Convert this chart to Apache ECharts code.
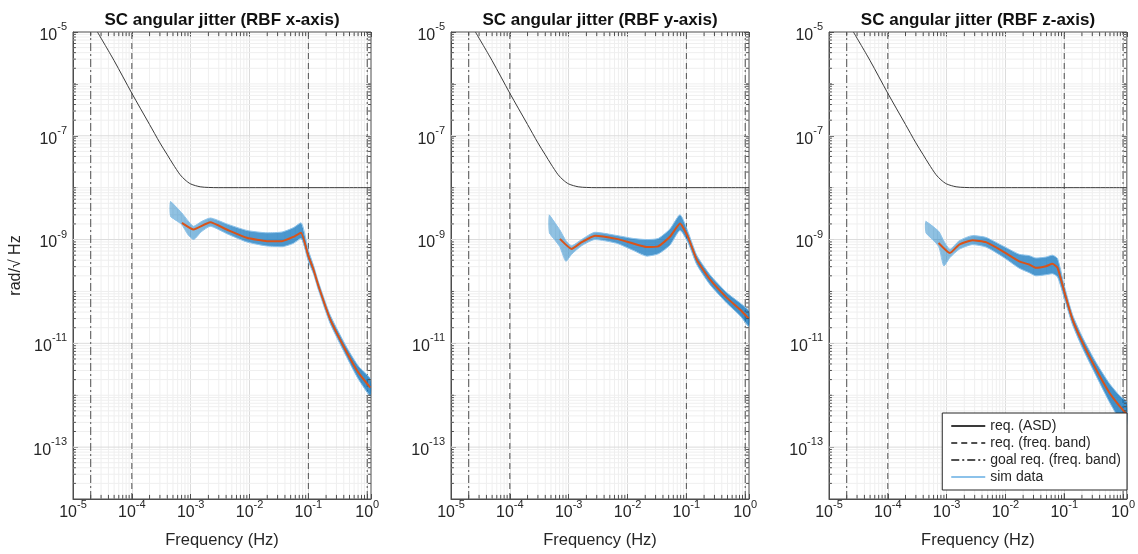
<!DOCTYPE html>
<html><head><meta charset="utf-8">
<script src="https://cdn.jsdelivr.net/npm/echarts@6/dist/echarts.min.js"></script>
<style>html,body{margin:0;padding:0;background:#fff}#c{width:1138px;height:554px}</style>
</head><body><div id="c"></div>
<script>
// ---------- data ----------
const titles = ['SC angular jitter (RBF x-axis)', 'SC angular jitter (RBF y-axis)', 'SC angular jitter (RBF z-axis)'];
const xTicks = [1e-5, 1e-4, 1e-3, 1e-2, 1e-1, 1];
const yTicks = [1e-13, 1e-11, 1e-9, 1e-7, 1e-5];
const X_MIN = 1e-5, X_MAX = 1.16, Y_MIN = 1e-14, Y_MAX = 1e-5;

const reqBand = [1e-4, 1e-1];
const goalBand = [2e-5, 1];

// requirement ASD (same on all three panels)
const asdFreq = [2.6e-5, 5e-5, 1e-4, 2e-4, 3e-4, 4e-4, 5e-4, 6.6e-4, 8e-4, 1e-3, 1.45e-3, 2e-3, 3e-3, 1.16];
const asdVal  = [1e-5, 2.8e-6, 6.6e-7, 1.65e-7, 7.3e-8, 4.3e-8, 2.85e-8, 1.78e-8, 1.42e-8, 1.18e-8, 1.04e-8, 1.01e-8, 1.0e-8, 1.0e-8];

// RBF x-axis
const xMeanFreq = [7.1e-4, 1.12e-3, 2.15e-3, 4.1e-3, 9.0e-3, 0.0198, 0.0356, 0.056, 0.0748, 0.1, 0.122, 0.149, 0.235, 0.453, 0.714, 1.13];
const xMeanVal  = [2.1e-9, 1.56e-9, 2.15e-9, 1.56e-9, 1.08e-9, 9.3e-10, 9.3e-10, 1.13e-9, 1.35e-9, 4.8e-10, 2.65e-10, 1.26e-10, 2.9e-11, 6.6e-12, 2.7e-12, 1.4e-12];
const xBandFreq = [4.5e-4, 7e-4, 9e-4, 1.12e-3, 1.5e-3, 2.15e-3, 4.1e-3, 9e-3, 0.02, 0.036, 0.056, 0.075, 0.1, 0.122, 0.149, 0.235, 0.453, 0.714, 1.13];
const xBandUpper = [5.5e-9, 3.3e-9, 2.3e-9, 1.8e-9, 2.2e-9, 2.6e-9, 2.0e-9, 1.5e-9, 1.35e-9, 1.4e-9, 1.7e-9, 2.1e-9, 6.2e-10, 3.2e-10, 1.5e-10, 3.5e-11, 8.2e-12, 3.6e-12, 2.1e-12];
const xBandLower = [2.8e-9, 1.95e-9, 1.24e-9, 1.0e-9, 1.4e-9, 1.8e-9, 1.3e-9, 9.0e-10, 7.5e-10, 7.3e-10, 8.5e-10, 1.05e-9, 3.8e-10, 2.2e-10, 1.05e-10, 2.4e-11, 5.3e-12, 2.0e-12, 0.95e-12];

// RBF y-axis
const yMeanFreq = [7.1e-4, 1.12e-3, 1.66e-3, 2.8e-3, 6.5e-3, 0.0125, 0.0211, 0.0333, 0.0526, 0.078, 0.108, 0.150, 0.252, 0.484, 0.817, 1.15];
const yMeanVal  = [1.03e-9, 6.6e-10, 8.9e-10, 1.19e-9, 1.03e-9, 8.4e-10, 7.2e-10, 7.4e-10, 1.13e-9, 2.03e-9, 1.08e-9, 4.1e-10, 1.7e-10, 7.6e-11, 4.5e-11, 3.0e-11];
const yBandFreq = [4.65e-4, 7e-4, 9e-4, 1.12e-3, 1.66e-3, 2.8e-3, 6.5e-3, 0.0125, 0.0211, 0.0333, 0.0526, 0.078, 0.108, 0.150, 0.252, 0.484, 0.817, 1.15];
const yBandUpper = [3.0e-9, 1.56e-9, 9.5e-10, 7.6e-10, 1.0e-9, 1.38e-9, 1.2e-9, 1.05e-9, 1.0e-9, 1.05e-9, 1.6e-9, 3.0e-9, 1.35e-9, 5.0e-10, 2.1e-10, 9.5e-11, 6.0e-11, 4.3e-11];
const yBandLower = [1.35e-9, 7.4e-10, 3.8e-10, 5.2e-10, 7.6e-10, 1.0e-9, 8.5e-10, 6.2e-10, 4.8e-10, 5.3e-10, 7.8e-10, 1.5e-9, 8.5e-10, 3.3e-10, 1.35e-10, 6.0e-11, 3.4e-11, 2.1e-11];

// RBF z-axis
const zMeanFreq = [7.3e-4, 1.14e-3, 1.64e-3, 2.76e-3, 4.66e-3, 8.9e-3, 0.0172, 0.0254, 0.033, 0.0489, 0.063, 0.077, 0.1, 0.138, 0.205, 0.346, 0.582, 0.86, 1.15];
const zMeanVal  = [8.6e-10, 5.5e-10, 8.0e-10, 9.7e-10, 8.9e-10, 6.0e-10, 3.8e-10, 3.3e-10, 2.85e-10, 3.07e-10, 3.4e-10, 2.85e-10, 1.0e-10, 2.9e-11, 1.03e-11, 3.2e-12, 1.13e-12, 6.3e-13, 4.3e-13];
const zBandFreq = [4.4e-4, 7.3e-4, 9e-4, 1.14e-3, 1.64e-3, 2.76e-3, 4.66e-3, 8.9e-3, 0.0172, 0.0254, 0.033, 0.0489, 0.063, 0.077, 0.1, 0.138, 0.205, 0.346, 0.582, 0.86, 1.15];
const zBandUpper = [2.25e-9, 1.45e-9, 9.3e-10, 6.5e-10, 9.5e-10, 1.19e-9, 1.1e-9, 7.6e-10, 5.2e-10, 4.9e-10, 4.4e-10, 4.6e-10, 5.0e-10, 4.3e-10, 1.3e-10, 3.6e-11, 1.3e-11, 4.3e-12, 1.7e-12, 1.0e-12, 7.5e-13];
const zBandLower = [1.35e-9, 7.4e-10, 3.1e-10, 4.5e-10, 6.5e-10, 8.0e-10, 7.2e-10, 4.7e-10, 2.8e-10, 2.3e-10, 2.0e-10, 2.1e-10, 2.2e-10, 1.9e-10, 7.5e-11, 2.3e-11, 8.0e-12, 2.4e-12, 7.5e-13, 3.5e-13, 2.3e-13];

const panels = [
  {meanF: xMeanFreq, meanV: xMeanVal, bandF: xBandFreq, up: xBandUpper, lo: xBandLower},
  {meanF: yMeanFreq, meanV: yMeanVal, bandF: yBandFreq, up: yBandUpper, lo: yBandLower},
  {meanF: zMeanFreq, meanV: zMeanVal, bandF: zBandFreq, up: zBandUpper, lo: zBandLower}
];

// ---------- layout / style ----------
const gridsPx = [{left: 73, width: 298}, {left: 451, width: 298}, {left: 829, width: 298}];
const FONT = '"Liberation Sans", Arial, Helvetica, sans-serif';
const TXT = '#262626';
const AX = '#4d4d4d';
const richLbl = {
  b: {fontSize: 16, lineHeight: 17, verticalAlign: 'bottom', color: TXT, fontFamily: FONT},
  s: {fontSize: 11, lineHeight: 12, padding: [0, 0, 11, 0], verticalAlign: 'bottom', color: TXT, fontFamily: FONT}
};
function isIn(v, list) { return list.some(t => Math.abs(Math.log10(v) - Math.log10(t)) < 1e-6); }
function lbl(v, list) {
  if (!isIn(v, list)) return '';
  return '{b|10}{s|' + Math.round(Math.log10(v)) + '}';
}
const pairs = (f, v) => f.map((x, i) => [x, v[i]]);

// decorative grid positions: minor lines at k*10^n
const minorX = [], minorY = [], majorY = [];
for (let n = -5; n <= 0; n++) for (let k = 2; k <= 9; k++) { const v = k * Math.pow(10, n); if (v < X_MAX) minorX.push(v); }
for (let n = -14; n <= -6; n++) for (let k = 1; k <= 9; k++) {
  const v = k * Math.pow(10, n);
  if (k === 1 && n === -14) continue;
  if (k === 1 && isIn(v, yTicks)) majorY.push(v); else minorY.push(v);
}
function vLines(xs, y0, y1) { const d = []; xs.forEach(x => { d.push([x, y0], [x, y1], '-'); }); return d; }
function hLines(ys, x0, x1) { const d = []; ys.forEach(y => { d.push([x0, y], [x1, y], '-'); }); return d; }
const TICK_Y = 1.2, TICK_X = 1.12;   // short tick length, in axis units (decorative)

const bandFill = new echarts.graphic.LinearGradient(0, 0, 1, 0, [
  {offset: 0, color: 'rgba(0,114,189,0.42)'},
  {offset: 0.16, color: 'rgba(0,114,189,0.50)'},
  {offset: 0.32, color: 'rgba(0,108,186,0.68)'},
  {offset: 1, color: 'rgba(0,108,186,0.75)'}
]);

const option = {
  animation: false,
  backgroundColor: '#ffffff',
  textStyle: {fontFamily: FONT},
  title: titles.map((t, i) => ({
    text: t, left: gridsPx[i].left + gridsPx[i].width / 2, top: 12, textAlign: 'center', padding: 0,
    textStyle: {fontSize: 17, fontWeight: 'bold', color: '#111', fontFamily: FONT}
  })),
  legend: {
    data: ['req. (ASD)', 'req. (freq. band)', 'goal req. (freq. band)', 'sim data'],
    orient: 'vertical', right: 11, bottom: 64, z: 20,
    backgroundColor: '#ffffff', borderColor: TXT, borderWidth: 1, borderRadius: 0,
    padding: [6, 6, 6, 8], itemWidth: 34, itemHeight: 12, itemGap: 3,
    itemStyle: {opacity: 0, borderWidth: 0},
    textStyle: {fontSize: 14, lineHeight: 14, color: TXT, fontFamily: FONT},
    selectedMode: false
  },
  grid: gridsPx.map(g => ({left: g.left, width: g.width, top: 32, height: 468, show: true,
    borderColor: AX, borderWidth: 1, backgroundColor: 'transparent', containLabel: false})),
  xAxis: [],
  yAxis: [],
  series: []
};

for (let i = 0; i < 3; i++) {
  option.xAxis.push({
    type: 'log', logBase: 10, gridIndex: i, min: X_MIN, max: X_MAX, splitNumber: 5,
    name: 'Frequency (Hz)', nameLocation: 'middle', nameGap: 33,
    nameTextStyle: {fontSize: 16.5, color: TXT, fontFamily: FONT},
    axisLine: {show: true, lineStyle: {color: AX}},
    axisTick: {show: true, inside: true, length: 5, lineStyle: {color: AX}},
    axisLabel: {margin: 5, formatter: v => lbl(v, xTicks), rich: richLbl},
    splitLine: {show: true, showMinLine: false, showMaxLine: false, lineStyle: {color: '#dcdcdc', width: 1}},
    minorTick: {show: false}
  });
  option.xAxis.push({
    type: 'log', logBase: 10, gridIndex: i, min: X_MIN, max: X_MAX, splitNumber: 5, position: 'top',
    axisLine: {show: false}, axisLabel: {show: false}, splitLine: {show: false},
    axisTick: {show: true, inside: true, length: 5, lineStyle: {color: AX}}
  });
  option.yAxis.push({
    type: 'log', logBase: 10, gridIndex: i, min: Y_MIN, max: Y_MAX, splitNumber: 9,
    name: i === 0 ? 'rad/\u221A Hz' : '', nameLocation: 'middle', nameGap: 49, nameRotate: 90,
    nameTextStyle: {fontSize: 16, color: TXT, fontFamily: FONT},
    axisLine: {show: true, lineStyle: {color: AX}},
    axisTick: {show: true, inside: true, length: 5, lineStyle: {color: AX}},
    axisLabel: {margin: 6, padding: [6, 0, 0, 0], formatter: v => lbl(v, yTicks), rich: richLbl},
    splitLine: {show: false}
  });
  option.yAxis.push({
    type: 'log', logBase: 10, gridIndex: i, min: Y_MIN, max: Y_MAX, splitNumber: 9, position: 'right',
    axisLine: {show: false}, axisLabel: {show: false}, splitLine: {show: false},
    axisTick: {show: true, inside: true, length: 5, lineStyle: {color: AX}}
  });
  const xa = 2 * i, ya = 2 * i;
  const p = panels[i];
  const deco = {type: 'line', xAxisIndex: xa, yAxisIndex: ya, symbol: 'none', silent: true,
    connectNulls: false, legendHoverLink: false, tooltip: {show: false}};

  // grid-line decoration
  option.series.push(Object.assign({}, deco, {name: 'gridMinor', z: 1,
    data: vLines(minorX, Y_MIN, Y_MAX).concat(hLines(minorY, X_MIN, X_MAX)),
    lineStyle: {color: '#efefef', width: 1}}));
  option.series.push(Object.assign({}, deco, {name: 'gridMajor', z: 1,
    data: hLines(majorY, X_MIN, X_MAX), lineStyle: {color: '#dcdcdc', width: 1}}));
  // minor ticks on the four edges
  const mt = []
    .concat(vLines(minorX, Y_MIN, Y_MIN * TICK_Y))
    .concat(vLines(minorX, Y_MAX / TICK_Y, Y_MAX))
    .concat(hLines(minorY, X_MIN, X_MIN * TICK_X))
    .concat(hLines(minorY, X_MAX / TICK_X, X_MAX));
  option.series.push(Object.assign({}, deco, {name: 'minorTicks', z: 7, data: mt,
    lineStyle: {color: AX, width: 1}}));

  // requirement ASD
  option.series.push({
    type: 'line', name: 'req. (ASD)', xAxisIndex: xa, yAxisIndex: ya, z: 3,
    data: pairs(asdFreq, asdVal), showSymbol: false, symbol: 'none', smooth: 0.3,
    lineStyle: {color: '#3a3a3a', width: 1}, itemStyle: {color: '#3a3a3a'}
  });
  reqBand.forEach(f => option.series.push({
    type: 'line', name: 'req. (freq. band)', xAxisIndex: xa, yAxisIndex: ya, z: 3,
    data: [[f, Y_MIN], [f, Y_MAX]], symbol: 'none',
    lineStyle: {color: '#505050', width: 1, type: [6, 4]}, itemStyle: {color: '#505050'}
  }));
  goalBand.forEach(f => option.series.push({
    type: 'line', name: 'goal req. (freq. band)', xAxisIndex: xa, yAxisIndex: ya, z: 3,
    data: [[f, Y_MIN], [f, Y_MAX]], symbol: 'none',
    lineStyle: {color: '#505050', width: 1, type: [8, 3, 2, 3]}, itemStyle: {color: '#505050'}
  }));
  // sim data envelope (filled)
  option.series.push({
    type: 'custom', name: 'sim band', xAxisIndex: xa, yAxisIndex: ya, z: 4, silent: true,
    data: pairs(p.bandF, p.up),
    renderItem: (params, api) => {
      if (params.dataIndex !== 0) return null;
      const pts = [];
      for (let k = 0; k < p.bandF.length; k++) pts.push(api.coord([p.bandF[k], p.up[k]]));
      for (let k = p.bandF.length - 1; k >= 0; k--) pts.push(api.coord([p.bandF[k], p.lo[k]]));
      return {type: 'polygon', shape: {points: pts, smooth: 0.2}, style: {fill: bandFill, stroke: 'none'}};
    }
  });
  // sim data edge lines
  option.series.push({
    type: 'line', name: 'sim data', xAxisIndex: xa, yAxisIndex: ya, z: 5,
    data: pairs(p.bandF, p.up), symbol: 'none', smooth: 0.2,
    lineStyle: {color: '#8cc2ea', width: 1}, itemStyle: {color: '#8cc2ea'}
  });
  option.series.push({
    type: 'line', name: 'sim data', xAxisIndex: xa, yAxisIndex: ya, z: 5,
    data: pairs(p.bandF, p.lo), symbol: 'none', smooth: 0.2,
    lineStyle: {color: '#8cc2ea', width: 1}, itemStyle: {color: '#8cc2ea'}
  });
  // mean
  option.series.push({
    type: 'line', name: 'sim mean', xAxisIndex: xa, yAxisIndex: ya, z: 6,
    data: pairs(p.meanF, p.meanV), symbol: 'none', smooth: 0.15,
    lineStyle: {color: '#D95319', width: 2}, itemStyle: {color: '#D95319'}
  });
}

const chart = echarts.init(document.getElementById('c'), null, {renderer: 'canvas'});
chart.setOption(option);
</script>
</body></html>
